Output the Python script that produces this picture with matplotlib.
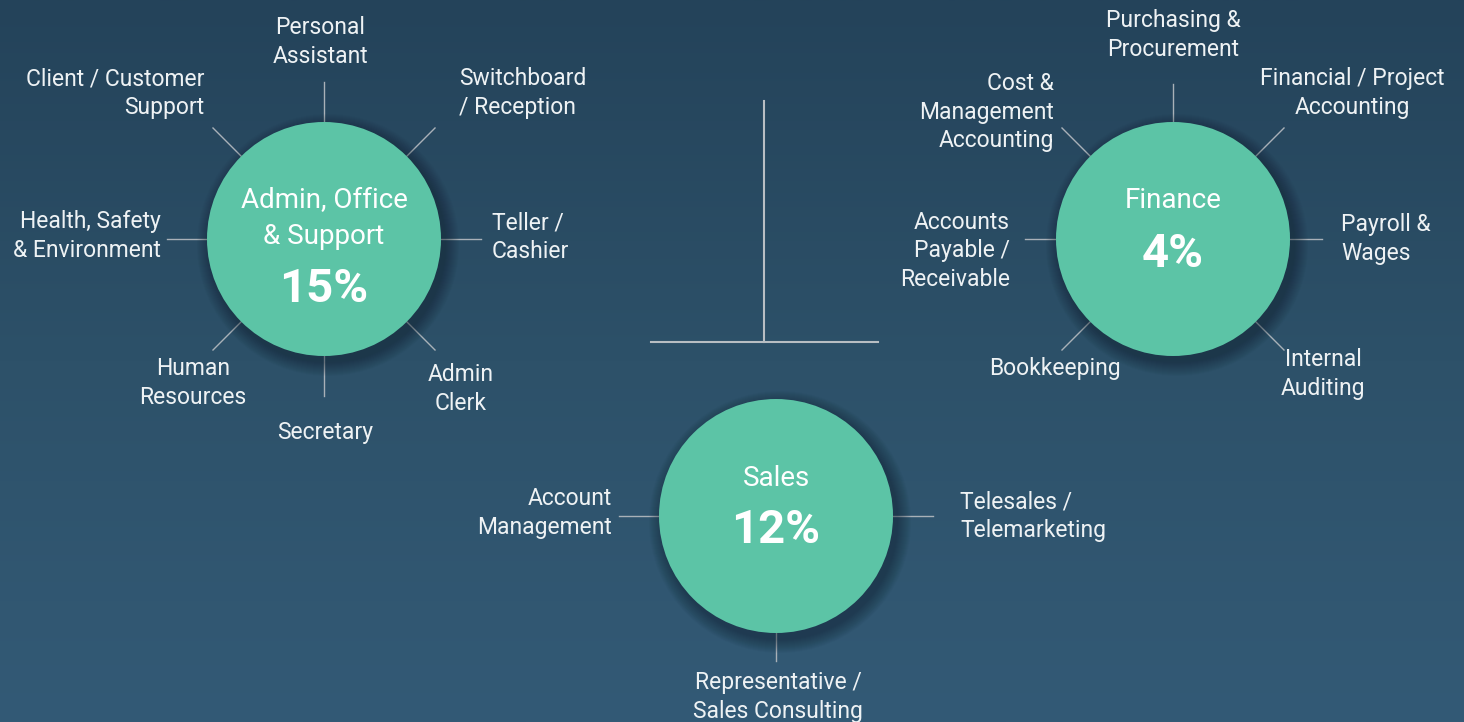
import numpy as np
import matplotlib
matplotlib.use("Agg")
import matplotlib.pyplot as plt
from matplotlib.patches import Circle
from matplotlib.colors import LinearSegmentedColormap

# ---- data ----
groups = ["Admin, Office\n& Support", "Finance", "Sales"]
percents = ["15%", "4%", "12%"]
admin_roles = ["Personal\nAssistant", "Client / Customer\nSupport", "Switchboard\n/ Reception",
               "Health, Safety\n& Environment", "Teller /\nCashier", "Human\nResources",
               "Secretary", "Admin\nClerk"]
finance_roles = ["Purchasing &\nProcurement", "Cost &\nManagement\nAccounting",
                 "Financial / Project\nAccounting", "Accounts\nPayable /\nReceivable",
                 "Payroll &\nWages", "Bookkeeping", "Internal\nAuditing"]
sales_roles = ["Account\nManagement", "Telesales /\nTelemarketing",
               "Representative /\nSales Consulting"]

W, H = 1464, 722
fig = plt.figure(figsize=(W / 100, H / 100), dpi=100)
ax = fig.add_axes([0, 0, 1, 1])
ax.set_xlim(0, W)
ax.set_ylim(H, 0)
ax.axis("off")

# gradient background
cmap = LinearSegmentedColormap.from_list("bg", ["#24435a", "#2d5169", "#335a76"])
grad = np.linspace(0, 1, 256).reshape(-1, 1)
ax.imshow(grad, cmap=cmap, extent=[0, W, H, 0], aspect="auto", zorder=0)

FONT = "Roboto"
TXT = "#eef2f4"
LINE = "#a9b1b8"
CIRC = "#5cc4a6"
R = 117

centers = [(324, 239), (1173, 239), (776, 516)]
spokes = [
    [90, 135, 45, 180, 0, 225, 270, 315],
    [90, 135, 45, 180, 0, 225, 315],
    [180, 0, 270],
]
spoke_len = [[40] * 8, [38, 40, 40, 31, 32, 40, 40], [40, 40, 28]]
label_pos = [
    [(320, 42, "center"), (204, 93, "right"), (459, 93, "left"), (161, 236, "right"),
     (492, 237, "left"), (193, 383, "center"), (325, 432, "center"), (461, 389, "center")],
    [(1173, 35, "center"), (1054, 112, "right"), (1352, 93, "center"), (1010, 251, "right"),
     (1341, 239, "left"), (1055, 368, "center"), (1323, 374, "center")],
    [(612, 513, "right"), (960, 516, "left"), (778, 697, "center")],
]
roles = [admin_roles, finance_roles, sales_roles]
title_y = [[201, 236], [201], [478]]
pct_y = [289, 254, 530]

# T connector
ax.plot([764, 764], [101, 342], color="#b8bec3", lw=1.5, zorder=1)
ax.plot([651, 878], [342, 342], color="#b8bec3", lw=1.5, zorder=1)

for gi, (cx, cy) in enumerate(centers):
    for ang, ln in zip(spokes[gi], spoke_len[gi]):
        a = np.deg2rad(ang)
        x0, y0 = cx + R * np.cos(a), cy - R * np.sin(a)
        x1, y1 = cx + (R + ln) * np.cos(a), cy - (R + ln) * np.sin(a)
        ax.plot([x0, x1], [y0, y1], color=LINE, lw=1.0, zorder=1)
    for k in range(14):
        ax.add_patch(Circle((cx + 4, cy + 6), R + 14 - k, color="#0d1e2b",
                            alpha=0.035, lw=0, zorder=2))
    ax.add_patch(Circle((cx, cy), R, color=CIRC, lw=0, zorder=3))
    lines = groups[gi].split("\n")
    for ln_txt, ty in zip(lines, title_y[gi]):
        ax.text(cx, ty, ln_txt, ha="center", va="center", fontsize=20,
                family=FONT, fontweight="normal", color="white", zorder=4)
    ax.text(cx, pct_y[gi], percents[gi], ha="center", va="center", fontsize=34,
            family=FONT, fontweight="bold", color="white", zorder=4)
    for txt, (lx, ly, ha) in zip(roles[gi], label_pos[gi]):
        ax.text(lx, ly, txt, ha=ha, va="center", multialignment=ha, fontsize=16.5,
                family=FONT, fontweight="normal", color=TXT, linespacing=1.3, zorder=4)

fig.savefig("out.png", dpi=100)
